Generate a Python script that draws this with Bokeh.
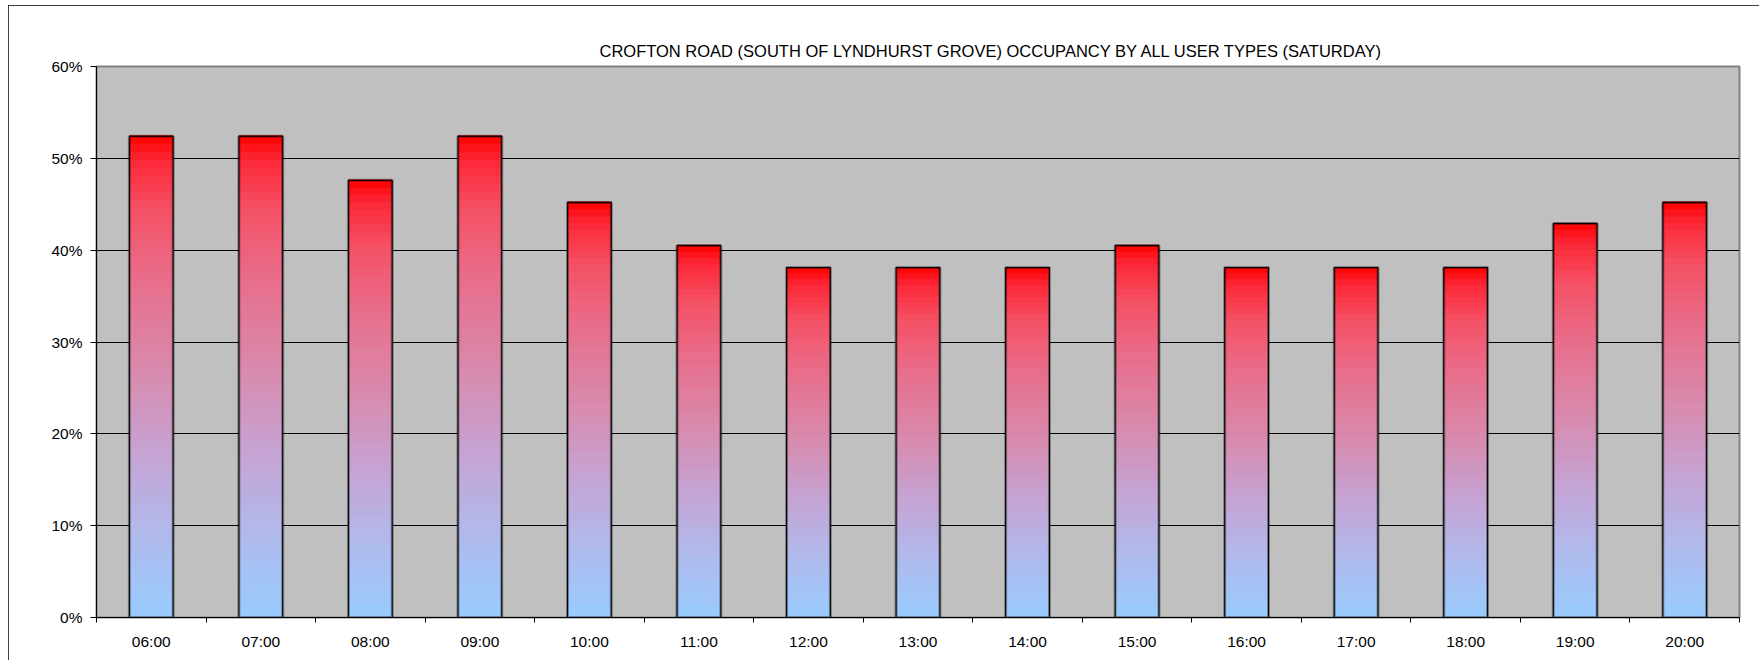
from bokeh.plotting import figure
from bokeh.models import FixedTicker, NumeralTickFormatter, Title
from bokeh.embed import file_html
from bokeh.resources import INLINE

# ---- data ----
times = ["06:00", "07:00", "08:00", "09:00", "10:00", "11:00", "12:00", "13:00",
         "14:00", "15:00", "16:00", "17:00", "18:00", "19:00", "20:00"]
occupancy = [0.524, 0.524, 0.476, 0.524, 0.452, 0.405, 0.381, 0.381,
             0.381, 0.405, 0.381, 0.381, 0.381, 0.429, 0.452]
y_ticks = [0.0, 0.1, 0.2, 0.3, 0.4, 0.5, 0.6]
title_text = "CROFTON ROAD (SOUTH OF LYNDHURST GROVE) OCCUPANCY BY ALL USER TYPES (SATURDAY)"

# ---- styling ----
FONT = "Liberation Sans"
BAR_W = 0.4
N_SEG = 60
# gradient stops: t measured from top (0) to bottom (1)
stops = [(0.0, (255, 0, 0)), (0.05, (252, 40, 55)), (0.15, (245, 80, 100)),
         (0.3, (232, 110, 140)), (0.5, (215, 140, 175)), (0.65, (198, 162, 210)),
         (0.8, (180, 182, 232)), (1.0, (153, 204, 255))]


def ramp(t):
    for (t0, c0), (t1, c1) in zip(stops[:-1], stops[1:]):
        if t0 <= t <= t1:
            f = (t - t0) / (t1 - t0)
            c = [round(a + (b - a) * f) for a, b in zip(c0, c1)]
            return "#%02x%02x%02x" % tuple(c)
    return "#%02x%02x%02x" % stops[-1][1]


p = figure(width=1751, height=655, x_range=(0, len(times)), y_range=(0, 0.6),
           output_backend="svg", toolbar_location=None,
           min_border_left=88, min_border_right=20, min_border_top=61,
           min_border_bottom=43)
p.styles = {"outline": "1px solid black", "outline-offset": "-1px",
            "margin-left": "8px", "margin-top": "5px"}

p.add_layout(Title(text=title_text, align="left", offset=503,
                   text_font=FONT, text_font_size="16.5px", text_font_style="normal",
                   text_color="black", standoff=14), "above")

p.background_fill_color = "#c0c0c0"
p.border_fill_color = "white"
p.outline_line_color = "#808080"
p.outline_line_width = 2

# gradient bars
L, R, B, T, C = [], [], [], [], []
for i, v in enumerate(occupancy):
    cx = i + 0.5
    for k in range(N_SEG):
        b = v * k / N_SEG
        t = v * (k + 1) / N_SEG
        L.append(cx - BAR_W / 2)
        R.append(cx + BAR_W / 2)
        B.append(b)
        T.append(t + v * 0.002)
        tm = 1 - (k + 0.5) / N_SEG
        C.append(ramp(tm))
p.quad(left=L, right=R, bottom=B, top=T, fill_color=C, line_color=None)

xc = [i + 0.5 for i in range(len(times))]
# shadow
p.quad(left=[x - BAR_W / 2 for x in xc], right=[x + BAR_W / 2 for x in xc],
       bottom=[0] * len(xc), top=occupancy, fill_color=None,
       line_color="black", line_alpha=0.35, line_width=3)
p.quad(left=[x - BAR_W / 2 for x in xc], right=[x + BAR_W / 2 for x in xc],
       bottom=[0] * len(xc), top=occupancy, fill_color=None,
       line_color="black", line_width=1)

# grid
p.xgrid.visible = False
p.ygrid.ticker = FixedTicker(ticks=y_ticks)
p.ygrid.grid_line_color = "black"
p.ygrid.grid_line_width = 1
p.ygrid.level = "underlay"

# x axis
p.xaxis.ticker = FixedTicker(ticks=xc, minor_ticks=list(range(len(times) + 1)))
p.xaxis.major_label_overrides = {x: t for x, t in zip(xc, times)}
p.xaxis.major_tick_out = 0
p.xaxis.major_tick_in = 0
p.xaxis.minor_tick_out = 5
p.xaxis.minor_tick_in = 0
p.xaxis.minor_tick_line_color = "black"
p.xaxis.axis_line_color = "black"
p.xaxis.major_label_standoff = 10

# y axis
p.yaxis.ticker = FixedTicker(ticks=y_ticks, minor_ticks=[])
p.yaxis.formatter = NumeralTickFormatter(format="0%")
p.yaxis.major_tick_out = 6
p.yaxis.major_tick_in = 0
p.yaxis.major_tick_line_color = "black"
p.yaxis.axis_line_color = "black"
p.yaxis.major_label_standoff = 8

for ax in (p.xaxis, p.yaxis):
    ax.major_label_text_font = FONT
    ax.major_label_text_font_size = "15.5px"
    ax.major_label_text_color = "black"

open("out.html", "w").write(file_html(p, INLINE))
